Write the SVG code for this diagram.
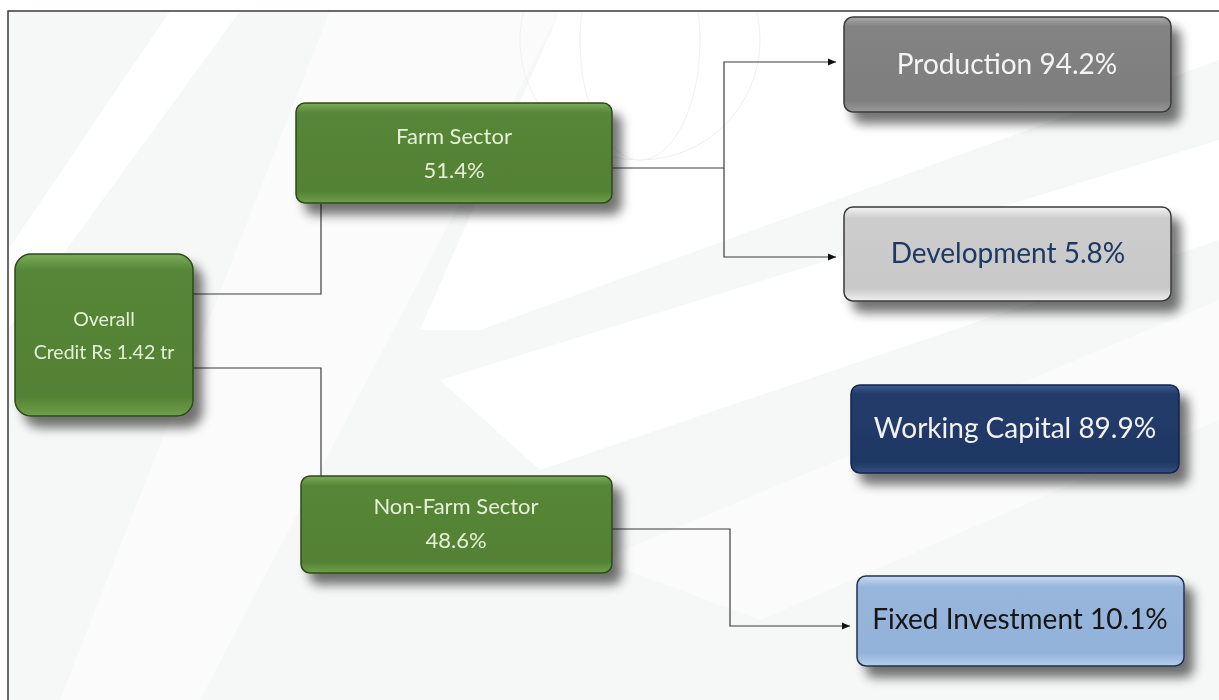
<svg xmlns="http://www.w3.org/2000/svg" width="1219" height="700" viewBox="0 0 1219 700">
<defs>
<style>
.lbl{font-family:Lato,"Open Sans","Liberation Sans",sans-serif;text-anchor:middle}
.g{fill:#e4f1d6}
.big{font-size:28px}
.mid{font-size:22px}
.conn{fill:none;stroke:#3c3c3c;stroke-width:1.2}
</style>
<filter id="sh" x="-10%" y="-20%" width="130%" height="160%">
<feGaussianBlur in="SourceAlpha" stdDeviation="5.5"/>
<feOffset dx="9" dy="11" result="b"/>
<feComponentTransfer><feFuncA type="linear" slope="0.55"/></feComponentTransfer>
<feMerge><feMergeNode/><feMergeNode in="SourceGraphic"/></feMerge>
</filter>
<linearGradient id="gGreen" x1="0" y1="0" x2="0" y2="1">
<stop offset="0" stop-color="#7cac5a"/><stop offset="0.1" stop-color="#568637"/><stop offset="0.88" stop-color="#538134"/><stop offset="1" stop-color="#6fa04c"/>
</linearGradient>
<linearGradient id="gGray" x1="0" y1="0" x2="0" y2="1">
<stop offset="0" stop-color="#a8a8a8"/><stop offset="0.1" stop-color="#838383"/><stop offset="0.88" stop-color="#7e7e7e"/><stop offset="1" stop-color="#9a9a9a"/>
</linearGradient>
<linearGradient id="gLight" x1="0" y1="0" x2="0" y2="1">
<stop offset="0" stop-color="#f4f4f4"/><stop offset="0.12" stop-color="#cdcdcd"/><stop offset="0.86" stop-color="#c8c8c8"/><stop offset="1" stop-color="#f0f0f0"/>
</linearGradient>
<linearGradient id="gNavy" x1="0" y1="0" x2="0" y2="1">
<stop offset="0" stop-color="#3f5e93"/><stop offset="0.1" stop-color="#213b69"/><stop offset="0.88" stop-color="#1f3864"/><stop offset="1" stop-color="#34507f"/>
</linearGradient>
<linearGradient id="gBlue" x1="0" y1="0" x2="0" y2="1">
<stop offset="0" stop-color="#c9dbf2"/><stop offset="0.12" stop-color="#98b6dc"/><stop offset="0.86" stop-color="#93b2d9"/><stop offset="1" stop-color="#b8cfee"/>
</linearGradient>
<marker id="arr" markerWidth="8" markerHeight="8" refX="8" refY="4" orient="auto" markerUnits="userSpaceOnUse">
<path d="M0,0.5 L8,4 L0,7.5 z" fill="#111"/>
</marker>
</defs>

<g id="background">
<rect width="1219" height="700" fill="#f6f7f7"/>
<path d="M170,11 L240,11 L8,330 L8,250 z" fill="#ffffff"/>
<path d="M330,11 L560,11 L200,700 L60,700 z" fill="#fbfbfb"/>
<path d="M560,11 L1219,11 L1219,60 L480,330 L420,330 z" fill="#ffffff"/>
<path d="M440,380 L1219,140 L1219,240 L540,470 z" fill="#ffffff"/>
<path d="M600,560 L1219,300 L1219,420 L760,620 z" fill="#fbfbfb"/>
<g fill="none" stroke="#f0f0f0" stroke-width="1">
<circle cx="640" cy="40" r="120"/>
<ellipse cx="640" cy="40" rx="60" ry="120"/>
</g>
<rect x="0" y="0" width="1219" height="11" fill="#ffffff"/>
<rect x="0" y="11" width="8" height="689" fill="#ffffff"/>
</g>

<g id="frame" fill="none" stroke="#3a3a3a" stroke-width="1.5">
<path d="M8,700 L8,11 L1219,11"/>
</g>

<g id="connectors" class="conn">
<path d="M193,294 H321 V204"/>
<path d="M193,368 H321 V476"/>
<path d="M612,168 H724 V62 H836" marker-end="url(#arr)"/>
<path d="M724,168 V257 H836" marker-end="url(#arr)"/>
<path d="M612,529 H730 V626 H850" marker-end="url(#arr)"/>
</g>

<g id="node-overall" filter="url(#sh)">
<rect x="15" y="254" width="178" height="162" rx="16" fill="url(#gGreen)" stroke="#2c4a19" stroke-width="1.5"/>
<text class="lbl g" x="104" y="326" font-size="19.5">Overall</text>
<text class="lbl g" x="104" y="359" font-size="19.5">Credit Rs 1.42 tr</text>
</g>

<g id="node-farm" filter="url(#sh)">
<rect x="296" y="103" width="316" height="100" rx="9" fill="url(#gGreen)" stroke="#2c4a19" stroke-width="1.5"/>
<text class="lbl g mid" x="454" y="144">Farm Sector</text>
<text class="lbl g mid" x="454" y="178">51.4%</text>
</g>

<g id="node-nonfarm" filter="url(#sh)">
<rect x="301" y="476" width="311" height="97" rx="9" fill="url(#gGreen)" stroke="#2c4a19" stroke-width="1.5"/>
<text class="lbl g mid" x="456" y="514">Non-Farm Sector</text>
<text class="lbl g mid" x="456" y="548">48.6%</text>
</g>

<g id="node-production" filter="url(#sh)">
<rect x="844" y="17" width="327" height="95" rx="9" fill="url(#gGray)" stroke="#3a3a3a" stroke-width="1.5"/>
<text class="lbl big" x="1007" y="74" fill="#f4f4f4">Production 94.2%</text>
</g>

<g id="node-development" filter="url(#sh)">
<rect x="844" y="207" width="327" height="94" rx="9" fill="url(#gLight)" stroke="#3a3a3a" stroke-width="1.5"/>
<text class="lbl big" x="1008" y="263" fill="#1f3864">Development 5.8%</text>
</g>

<g id="node-working" filter="url(#sh)">
<rect x="851" y="385" width="328" height="88" rx="9" fill="url(#gNavy)" stroke="#13254a" stroke-width="1.5"/>
<text class="lbl big" x="1015" y="438" fill="#f2f2f2">Working Capital 89.9%</text>
</g>

<g id="node-fixed" filter="url(#sh)">
<rect x="857" y="576" width="327" height="90" rx="9" fill="url(#gBlue)" stroke="#1f3050" stroke-width="1.5"/>
<text class="lbl big" x="1020" y="629" fill="#141414">Fixed Investment 10.1%</text>
</g>
</svg>
